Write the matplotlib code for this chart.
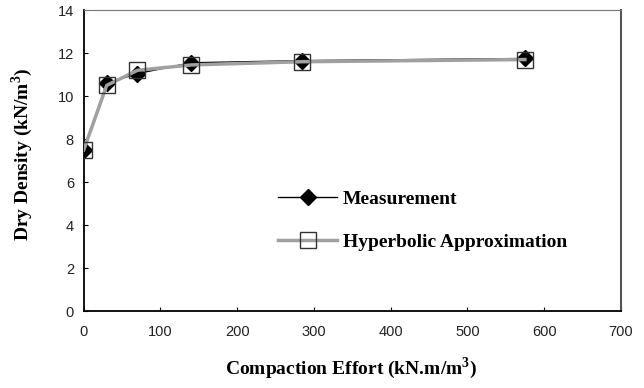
import matplotlib.pyplot as plt

plt.rcParams['mathtext.fontset'] = 'custom'
plt.rcParams['mathtext.rm'] = 'Liberation Serif:bold'
plt.rcParams['mathtext.bf'] = 'Liberation Serif:bold'

# compaction effort (kN.m/m3) and dry density (kN/m3)
effort = [0, 30, 70, 140, 285, 575]
measured = [7.5, 10.6, 11.05, 11.55, 11.65, 11.75]
hyperbolic = [7.5, 10.5, 11.2, 11.45, 11.6, 11.7]

fig = plt.figure(figsize=(6.44, 3.88), dpi=100, facecolor="w")
ax = fig.add_axes([0.130, 0.198, 0.834, 0.776])

ax.plot(effort, measured, color='k', lw=1.0, marker='D', ms=8,
        mfc='k', mec='k', label='Measurement', zorder=3)
ax.plot(effort, hyperbolic, color='#a0a0a0', lw=2.5, marker='s', ms=11,
        mfc='none', mec='#333333', mew=1.0, label='Hyperbolic Approximation', zorder=4)

ax.set_xlim(0, 700)
ax.set_ylim(0, 14)
ax.set_xticks(range(0, 701, 100))
ax.set_yticks(range(0, 15, 2))
ax.tick_params(direction='in', length=3, labelsize=10.5)
ax.tick_params(axis='x', pad=10)
ax.tick_params(axis='y', pad=7)
for lab in ax.get_xticklabels() + ax.get_yticklabels():
    lab.set_family('Liberation Sans')
    lab.set_color('#222222')

ax.spines['left'].set_linewidth(1.3)
ax.spines['bottom'].set_linewidth(1.3)
ax.spines['top'].set_color('#777777')
ax.spines['right'].set_color('#555555')
ax.spines['right'].set_linewidth(1.5)

lab_font = dict(family='Liberation Serif', weight='bold', size=14)
ax.set_xlabel('Compaction Effort (kN.m/m$^3$)', **lab_font)
ax.set_ylabel('Dry Density (kN/m$^3$)', **lab_font)
ax.xaxis.set_label_coords(0.497, -0.145)
ax.yaxis.set_label_coords(-0.09, 0.52)

ax.legend(loc='center left', bbox_to_anchor=(0.33, 0.30), frameon=False,
          prop=dict(family='Liberation Serif', weight='bold', size=14),
          handlelength=3.0, labelspacing=1.3, handletextpad=0.3)

plt.savefig("out.png", format='png', dpi=100)
plt.close()
